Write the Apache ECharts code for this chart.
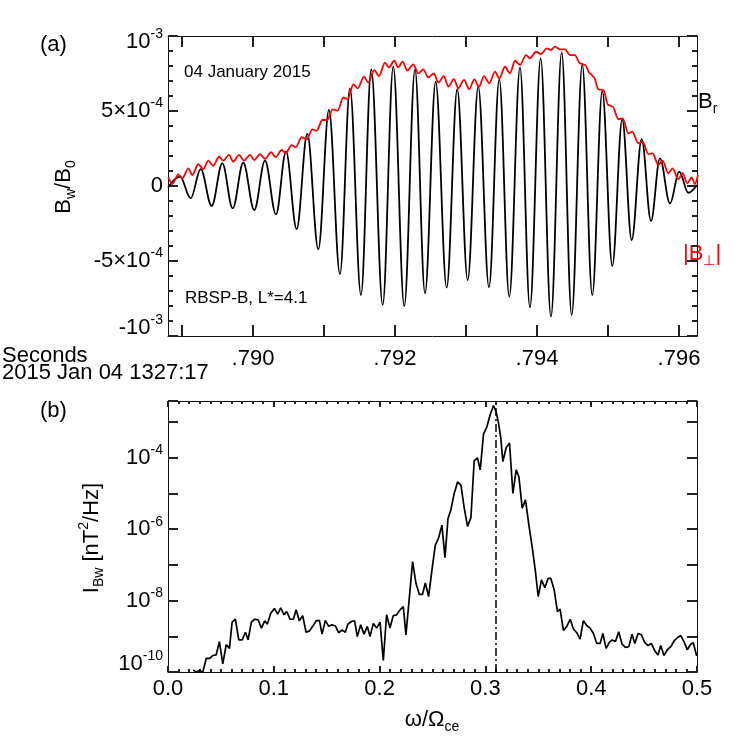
<!DOCTYPE html>
<html><head><meta charset="utf-8">
<script src="https://cdn.jsdelivr.net/npm/echarts@6/dist/echarts.min.js"></script>
<style>html,body{margin:0;padding:0;background:#fff}#c{width:747px;height:736px}</style>
</head><body><div id="c"></div>
<script>
const FONT = '"Liberation Sans", Arial, Helvetica, sans-serif';

// ---------- Panel (a): wave field B_w/B_0 vs time (seconds after 2015 Jan 04 1327:17) ----------
const blackTime = [0.788803,0.788972,0.789123,0.789263,0.789418,0.789568,0.789714,0.789863,0.790018,0.790169,
  0.790324,0.790465,0.790615,0.790765,0.790920,0.791070,0.791225,0.791366,0.791521,0.791666,
  0.791827,0.791976,0.792131,0.792282,0.792423,0.792573,0.792728,0.792877,0.793024,0.793173,
  0.793324,0.793469,0.793610,0.793761,0.793901,0.794052,0.794197,0.794348,0.794489,0.794638,
  0.794779,0.794920,0.795061,0.795201,0.795334,0.795475,0.795606,0.795732,0.795873,0.796004,
  0.796131,0.796254];
const blackValue = [-0.10e-4,0.62e-4,-0.82e-4,1.13e-4,-1.33e-4,1.51e-4,-1.49e-4,1.55e-4,-1.60e-4,1.69e-4,
  -1.89e-4,2.29e-4,-2.87e-4,3.47e-4,-4.22e-4,5.07e-4,-5.87e-4,6.51e-4,-7.27e-4,7.78e-4,
  -7.93e-4,7.95e-4,-8.00e-4,7.78e-4,-7.15e-4,6.95e-4,-6.78e-4,6.45e-4,-6.27e-4,6.62e-4,
  -6.75e-4,7.11e-4,-7.38e-4,7.89e-4,-8.09e-4,8.51e-4,-8.71e-4,8.91e-4,-8.60e-4,8.07e-4,
  -7.27e-4,6.33e-4,-5.33e-4,4.45e-4,-3.60e-4,3.13e-4,-2.33e-4,1.84e-4,-1.16e-4,0.95e-4,
  -0.45e-4,0.07e-4];
const redTime = [0.788807,0.788863,0.788948,0.789004,0.789089,0.789145,0.789230,0.789300,0.789370,0.789441,
  0.789521,0.789582,0.789662,0.789723,0.789803,0.789873,0.789958,0.790018,0.790099,0.790169,
  0.790254,0.790320,0.790404,0.790461,0.790545,0.790601,0.790686,0.790756,0.790835,0.790897,
  0.790976,0.791046,0.791123,0.791193,0.791272,0.791334,0.791413,0.791475,0.791563,0.791624,
  0.791708,0.791775,0.791859,0.791915,0.791990,0.792046,0.792108,0.792173,0.792258,0.792328,
  0.792399,0.792469,0.792549,0.792610,0.792690,0.792751,0.792831,0.792892,0.792972,0.793046,
  0.793117,0.793183,0.793254,0.793328,0.793408,0.793469,0.793549,0.793620,0.793690,0.793761,
  0.793845,0.793901,0.793986,0.794056,0.794137,0.794193,0.794254,0.794324,0.794394,0.794465,
  0.794535,0.794606,0.794676,0.794746,0.794803,0.794863,0.794934,0.795004,0.795066,0.795145,
  0.795207,0.795286,0.795342,0.795427,0.795489,0.795568,0.795630,0.795708,0.795770,0.795849,
  0.795911,0.795990,0.796052,0.796117,0.796179,0.796225,0.796268];
const redValue = [0.58e-4,0.13e-4,0.78e-4,0.51e-4,1.18e-4,0.73e-4,1.45e-4,1.13e-4,1.69e-4,1.35e-4,
  1.95e-4,1.69e-4,2.07e-4,1.62e-4,2.07e-4,1.69e-4,2.07e-4,1.73e-4,2.13e-4,1.80e-4,
  2.25e-4,1.91e-4,2.40e-4,2.18e-4,2.73e-4,2.58e-4,3.25e-4,3.11e-4,3.78e-4,3.69e-4,
  4.40e-4,4.40e-4,5.11e-4,5.02e-4,5.91e-4,5.78e-4,6.78e-4,6.51e-4,7.29e-4,6.89e-4,
  7.73e-4,7.33e-4,8.22e-4,7.91e-4,8.35e-4,7.91e-4,8.29e-4,7.69e-4,8.11e-4,7.51e-4,
  7.78e-4,7.25e-4,7.51e-4,6.89e-4,7.33e-4,6.62e-4,7.13e-4,6.51e-4,7.07e-4,6.45e-4,
  7.11e-4,6.62e-4,7.33e-4,6.85e-4,7.62e-4,7.18e-4,7.95e-4,7.51e-4,8.35e-4,8.07e-4,
  8.73e-4,8.51e-4,8.95e-4,8.80e-4,9.18e-4,9.07e-4,9.29e-4,9.11e-4,9.11e-4,8.73e-4,
  8.73e-4,8.18e-4,8.07e-4,7.51e-4,7.25e-4,6.45e-4,6.40e-4,5.40e-4,5.29e-4,4.45e-4,
  4.51e-4,3.51e-4,3.62e-4,2.85e-4,2.95e-4,2.13e-4,2.18e-4,1.40e-4,1.69e-4,0.85e-4,
  1.18e-4,0.45e-4,0.85e-4,0.18e-4,0.58e-4,0.13e-4,0.73e-4];
const timeMin = 0.788803, timeMax = 0.796254;
const timeTicks = [0.789,0.790,0.791,0.792,0.793,0.794,0.795,0.796];
const timeLabels = [0.790,0.792,0.794,0.796];

// ---------- Panel (b): spectrum I_Bw vs omega/Omega_ce ----------
const omega = [0.0238,0.0266,0.0297,0.0329,0.0361,0.0395,0.0423,0.0455,0.0486,0.0518,
  0.0550,0.0581,0.0606,0.0637,0.0669,0.0701,0.0732,0.0757,0.0788,0.0820,
  0.0852,0.0883,0.0914,0.0940,0.0971,0.1006,0.1037,0.1065,0.1097,0.1122,
  0.1154,0.1185,0.1211,0.1242,0.1273,0.1305,0.1336,0.1368,0.1399,0.1431,
  0.1456,0.1487,0.1519,0.1550,0.1582,0.1613,0.1645,0.1676,0.1701,0.1733,
  0.1764,0.1789,0.1821,0.1853,0.1884,0.1909,0.1941,0.1972,0.2004,0.2035,
  0.2066,0.2098,0.2129,0.2161,0.2193,0.2224,0.2249,0.2312,0.2344,0.2375,
  0.2406,0.2432,0.2463,0.2495,0.2526,0.2557,0.2589,0.2618,0.2646,0.2674,
  0.2705,0.2737,0.2769,0.2800,0.2831,0.2863,0.2894,0.2925,0.2951,0.2982,
  0.3014,0.3045,0.3077,0.3102,0.3124,0.3146,0.3165,0.3196,0.3228,0.3260,
  0.3291,0.3316,0.3348,0.3379,0.3411,0.3442,0.3473,0.3499,0.3530,0.3562,
  0.3593,0.3618,0.3650,0.3681,0.3706,0.3738,0.3770,0.3801,0.3832,0.3864,
  0.3895,0.3926,0.3958,0.3990,0.4021,0.4053,0.4084,0.4110,0.4141,0.4172,
  0.4197,0.4229,0.4260,0.4292,0.4323,0.4355,0.4386,0.4412,0.4443,0.4474,
  0.4506,0.4537,0.4569,0.4601,0.4632,0.4657,0.4688,0.4720,0.4752,0.4783,
  0.4814,0.4846,0.4877,0.4908,0.4940,0.4965,0.4997];
const intensity = [1.15e-10,1.0e-10,1.1e-10,0.98e-10,2.4e-10,2.4e-10,2.9e-10,3.0e-10,7.1e-10,1.7e-10,
  5.8e-10,4.6e-10,2.5e-9,3.0e-9,7.9e-10,7.9e-10,1.3e-9,7.9e-10,2.5e-9,3.0e-9,
  2.9e-9,1.7e-9,2.7e-9,2.2e-9,4.4e-9,6.0e-9,4.2e-9,6.3e-9,4.0e-9,4.9e-9,
  3.0e-9,3.0e-9,5.5e-9,2.7e-9,3.8e-9,1.3e-9,1.4e-9,1.9e-9,2.7e-9,2.8e-9,
  1.15e-9,2.8e-9,1.9e-9,2.1e-9,1.95e-9,1.26e-9,1.5e-9,1.3e-9,2.2e-9,2.6e-9,
  2.7e-9,9.8e-10,2.1e-9,1.15e-9,1.9e-9,9.8e-10,2.3e-9,1.7e-9,2.5e-9,2.1e-10,
  4.0e-9,1.7e-9,3.8e-9,4.0e-9,5.5e-9,6.8e-9,1.1e-9,1.23e-7,3.0e-8,1.5e-8,
  1.5e-8,3.1e-8,1.3e-8,7.2e-8,3.5e-7,5.6e-7,1.3e-6,1.6e-7,1.95e-6,3.5e-6,
  1.0e-5,2.1e-5,1.7e-5,3.9e-6,1.2e-6,2.1e-6,8.3e-5,1.0e-4,4.6e-5,4.6e-4,
  7.4e-4,1.6e-3,2.9e-3,1.9e-3,9.3e-4,3.5e-4,7.8e-5,1.9e-4,2.6e-4,1.0e-5,
  4.6e-5,3.0e-5,3.9e-6,6.6e-6,1.3e-6,3.2e-7,6.5e-8,1.3e-8,3.8e-8,2.3e-8,
  4.2e-8,4.2e-8,2.0e-8,4.9e-9,5.8e-9,1.45e-9,1.9e-9,3.0e-9,1.6e-9,1.26e-9,
  8.3e-10,2.75e-9,2.0e-9,1.7e-9,1.2e-9,6.3e-10,6.3e-10,1.2e-9,4.6e-10,6.8e-10,
  7.9e-10,7.1e-10,1.35e-9,6.0e-10,4.9e-10,5.1e-10,1.15e-9,6.3e-10,1.2e-9,1.1e-9,
  6.8e-10,5.5e-10,6.3e-10,3.9e-10,3.0e-10,5.5e-10,2.9e-10,4.2e-10,5.1e-10,7.4e-10,
  9.1e-10,1.05e-9,7.1e-10,4.2e-10,6.0e-10,6.6e-10,2.8e-10];
const markerOmega = 0.312;
const logMin = -10, logMax = -2.41;

// ---------- styles ----------
function tok(size, pad, color) {
  return { fontSize: size, fontFamily: FONT, color: color || '#000', fill: color || '#000', padding: pad || [0,0,0,0] };
}
const richTick = {
  b: tok(22), s: tok(14, [0,0,15,0]),
  bd: tok(22, [12,0,0,0]), sd: tok(14, [0,0,3,0]),
  bu: tok(22, [0,0,16,0]), su: tok(14, [0,0,31,0])
};
function frame() { return { show: true, onZero: false, lineStyle: { color: '#111', width: 1 } }; }
function tl() { return { color: '#222222', width: 2 }; }
function ticks(len, extra) { return Object.assign({ show: true, inside: true, length: len, lineStyle: tl() }, extra || {}); }
function minor(n, len) { return { show: true, splitNumber: n, length: len, lineStyle: tl() }; }

const chart = echarts.init(document.getElementById('c'));

const option = {
  animation: false,
  grid: [
    { left: 168, top: 36, width: 529, height: 300 },
    { left: 168, top: 401, width: 529, height: 271 }
  ],
  xAxis: [
    { gridIndex: 0, type: 'value', min: timeMin, max: timeMax, position: 'bottom',
      axisLine: frame(), splitLine: { show: false },
      axisTick: ticks(11, { customValues: timeTicks }),
      axisLabel: { show: true, customValues: timeLabels, margin: 12, fontSize: 22, fontFamily: FONT, color: '#000',
        formatter: v => Number(v).toFixed(3).replace(/^0/, '') } },
    { gridIndex: 0, type: 'value', min: timeMin, max: timeMax, position: 'top',
      axisLine: frame(), splitLine: { show: false },
      axisTick: ticks(11, { customValues: timeTicks }),
      axisLabel: { show: false } },
    { gridIndex: 1, type: 'value', min: 0, max: 0.5, interval: 0.1, position: 'bottom',
      axisLine: frame(), splitLine: { show: false },
      axisTick: ticks(6), minorTick: minor(10, 3),
      axisLabel: { margin: 6, fontSize: 22, fontFamily: FONT, color: '#000', formatter: v => Number(v).toFixed(1) } },
    { gridIndex: 1, type: 'value', min: 0, max: 0.5, interval: 0.1, position: 'top',
      axisLine: frame(), splitLine: { show: false },
      axisTick: ticks(6), minorTick: minor(10, 3),
      axisLabel: { show: false } }
  ],
  yAxis: [
    { gridIndex: 0, type: 'value', min: -1e-3, max: 1e-3, interval: 5e-4, position: 'left',
      axisLine: frame(), splitLine: { show: false }, axisTick: { show: false },
      axisLabel: { margin: 5, rich: richTick, formatter: v => {
        const k = Math.round(v * 1e4);
        if (k === 10) return '{bd|10}{sd|-3}';
        if (k === 5) return '{b|5×10}{s|-4}';
        if (k === 0) return '{b|0}';
        if (k === -5) return '{b|-5×10}{s|-4}';
        if (k === -10) return '{bu|-10}{su|-3}';
        return '';
      } } },
    { gridIndex: 0, type: 'value', min: -1e-3, max: 1e-3, interval: 5e-4, position: 'left',
      axisLine: frame(), splitLine: { show: false },
      axisTick: ticks(10), minorTick: minor(5, 5),
      axisLabel: { show: false } },
    { gridIndex: 0, type: 'value', min: -1e-3, max: 1e-3, interval: 5e-4, position: 'right',
      axisLine: frame(), splitLine: { show: false },
      axisTick: ticks(10), minorTick: minor(5, 5),
      axisLabel: { show: false } },
    { gridIndex: 1, type: 'value', min: logMin, max: logMax, interval: 1, position: 'left',
      axisLine: frame(), splitLine: { show: false }, axisTick: { show: false },
      axisLabel: { margin: 5, rich: richTick, formatter: v => {
        const e = Math.round(v);
        if (Math.abs(v - e) > 1e-6 || e % 2 !== 0) return '';
        if (e === -10) return '{bu|10}{su|-10}';
        return '{b|10}{s|' + e + '}';
      } } },
    { gridIndex: 1, type: 'value', min: logMin, max: logMax, interval: 1, position: 'left',
      axisLine: frame(), splitLine: { show: false },
      axisTick: ticks(10), axisLabel: { show: false } },
    { gridIndex: 1, type: 'value', min: logMin, max: logMax, interval: 1, position: 'right',
      axisLine: frame(), splitLine: { show: false },
      axisTick: ticks(10), axisLabel: { show: false } }
  ],
  series: [
    { type: 'line', xAxisIndex: 0, yAxisIndex: 0, showSymbol: false, smooth: 0.36, smoothMonotone: 'x',
      data: blackTime.map((t, i) => [t, blackValue[i]]),
      lineStyle: { color: '#000', width: 1.8 }, z: 3 },
    { type: 'line', xAxisIndex: 0, yAxisIndex: 0, showSymbol: false, smooth: 0.3, smoothMonotone: 'x',
      data: redTime.map((t, i) => [t, redValue[i]]),
      lineStyle: { color: '#ff0000', width: 1.8 }, z: 4 },
    { type: 'line', xAxisIndex: 2, yAxisIndex: 3, showSymbol: false,
      data: omega.map((w, i) => [w, Math.log10(intensity[i])]),
      lineStyle: { color: '#000', width: 1.7 }, z: 3,
      markLine: { silent: true, symbol: ['none', 'none'], label: { show: false },
        lineStyle: { color: '#000', width: 1.5, type: [8, 3, 2, 3] },
        data: [{ xAxis: markerOmega }] } }
  ],
  graphic: [
    { type: 'text', x: 40, y: 45, style: { text: '(a)', font: '22px ' + FONT, fill: '#000', verticalAlign: 'middle' } },
    { type: 'text', x: 40, y: 411, style: { text: '(b)', font: '22px ' + FONT, fill: '#000', verticalAlign: 'middle' } },
    { type: 'text', x: 184, y: 72, style: { text: '04 January 2015', font: '17px ' + FONT, fill: '#000', verticalAlign: 'middle' } },
    { type: 'text', x: 185, y: 298, style: { text: 'RBSP-B, L*=4.1', font: '17px ' + FONT, fill: '#000', verticalAlign: 'middle' } },
    { type: 'text', x: 2, y: 356, style: { text: 'Seconds', font: '22px ' + FONT, fill: '#000', verticalAlign: 'middle' } },
    { type: 'text', x: 2, y: 373, style: { text: '2015 Jan 04 1327:17', font: '22px ' + FONT, fill: '#000', verticalAlign: 'middle' } },
    { type: 'text', x: 698, y: 102, style: { text: '{b|B}{sub|r}', verticalAlign: 'middle',
      rich: { b: tok(22), sub: tok(14, [14,0,0,0]) } } },
    { type: 'text', x: 683, y: 254, style: { text: '{b||B}{sub|⊥}{b||}', verticalAlign: 'middle',
      rich: { b: tok(22, null, '#ff0000'), sub: tok(14, [14,0,0,0], '#ff0000') } } },
    { type: 'text', x: 64, y: 187, rotation: Math.PI / 2, style: { text: '{b|B}{sub|w}{b|/B}{sub|0}', align: 'center', verticalAlign: 'middle',
      rich: { b: tok(22), sub: tok(14, [14,0,0,0]) } } },
    { type: 'text', x: 92, y: 538, rotation: Math.PI / 2, style: { text: '{b|I}{sub|Bw}{b| [nT}{sup|2}{b|/Hz]}', align: 'center', verticalAlign: 'middle',
      rich: { b: tok(22), sub: tok(14, [14,0,0,0]), sup: tok(14, [0,0,15,0]) } } },
    { type: 'text', x: 432, y: 720, style: { text: '{b|ω/Ω}{sub|ce}', align: 'center', verticalAlign: 'middle',
      rich: { b: tok(22), sub: tok(14, [14,0,0,0]) } } }
  ]
};
chart.setOption(option);
</script>
</body></html>
